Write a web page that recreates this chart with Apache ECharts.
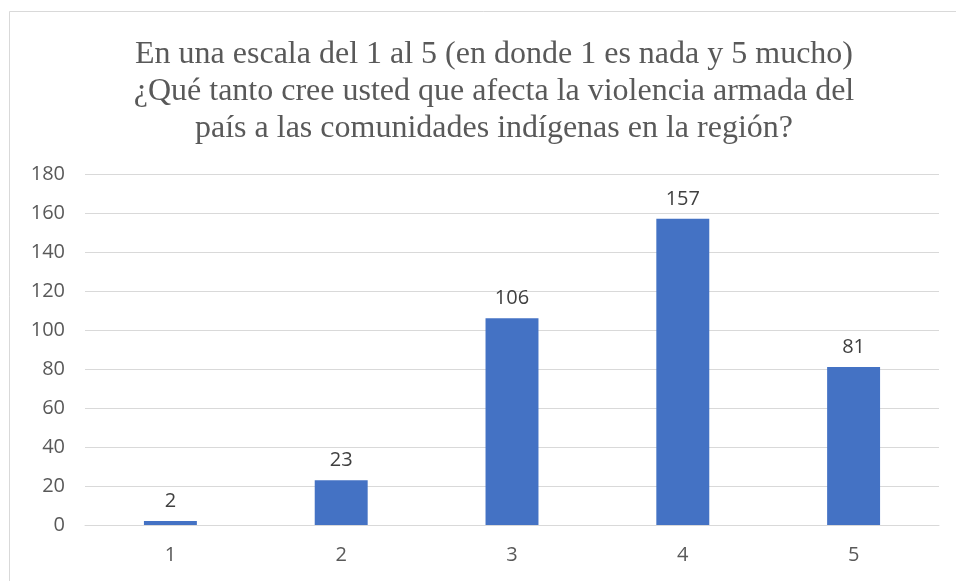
<!DOCTYPE html>
<html>
<head>
<meta charset="utf-8">
<script src="https://cdn.jsdelivr.net/npm/echarts@6/dist/echarts.min.js"></script>
<style>
html,body{margin:0;padding:0;background:#fff;}
#chart{width:956px;height:581px;}
</style>
</head>
<body>
<div id="chart"></div>
<script>
const categories = ['1', '2', '3', '4', '5'];
const values = [2, 23, 106, 157, 81];
const titleLines = [
  'En una escala del 1 al 5 (en donde 1 es nada y 5 mucho)',
  '¿Qué tanto cree usted que afecta la violencia armada del',
  'país a las comunidades indígenas en la región?'
];

const chart = echarts.init(document.getElementById('chart'), null, {renderer: 'canvas'});
chart.setOption({
  animation: false,
  backgroundColor: '#fff',
  graphic: [{
    type: 'rect',
    shape: {x: 9.5, y: 11.5, width: 980, height: 620},
    style: {fill: 'none', stroke: '#d9d9d9', lineWidth: 1},
    silent: true
  }],
  title: {
    text: titleLines.join('\n'),
    left: 489,
    top: 31,
    textAlign: 'center',
    textStyle: {
      fontFamily: '"Liberation Serif", "Times New Roman", serif',
      fontSize: 32,
      fontWeight: 'normal',
      color: '#595959',
      lineHeight: 37
    }
  },
  grid: {left: 85, right: 17, top: 174, bottom: 56, containLabel: false},
  xAxis: {
    type: 'category',
    data: categories,
    axisLine: {show: true, lineStyle: {color: '#d9d9d9', width: 1}},
    axisTick: {show: false},
    axisLabel: {color: '#595959', fontSize: 20, fontFamily: '"Open Sans", sans-serif', margin: 20}
  },
  yAxis: {
    type: 'value',
    min: 0,
    max: 180,
    interval: 20,
    axisLine: {show: false},
    axisTick: {show: false},
    splitLine: {lineStyle: {color: '#d9d9d9', width: 1}},
    axisLabel: {color: '#595959', fontSize: 20, fontFamily: '"Open Sans", sans-serif', margin: 20}
  },
  series: [{
    type: 'bar',
    data: values,
    barWidth: '31%',
    itemStyle: {color: '#4472c4'},
    label: {
      show: true,
      position: 'top',
      distance: 10,
      color: '#404040',
      fontSize: 20,
      fontFamily: '"Open Sans", sans-serif'
    }
  }]
});
</script>
</body>
</html>
